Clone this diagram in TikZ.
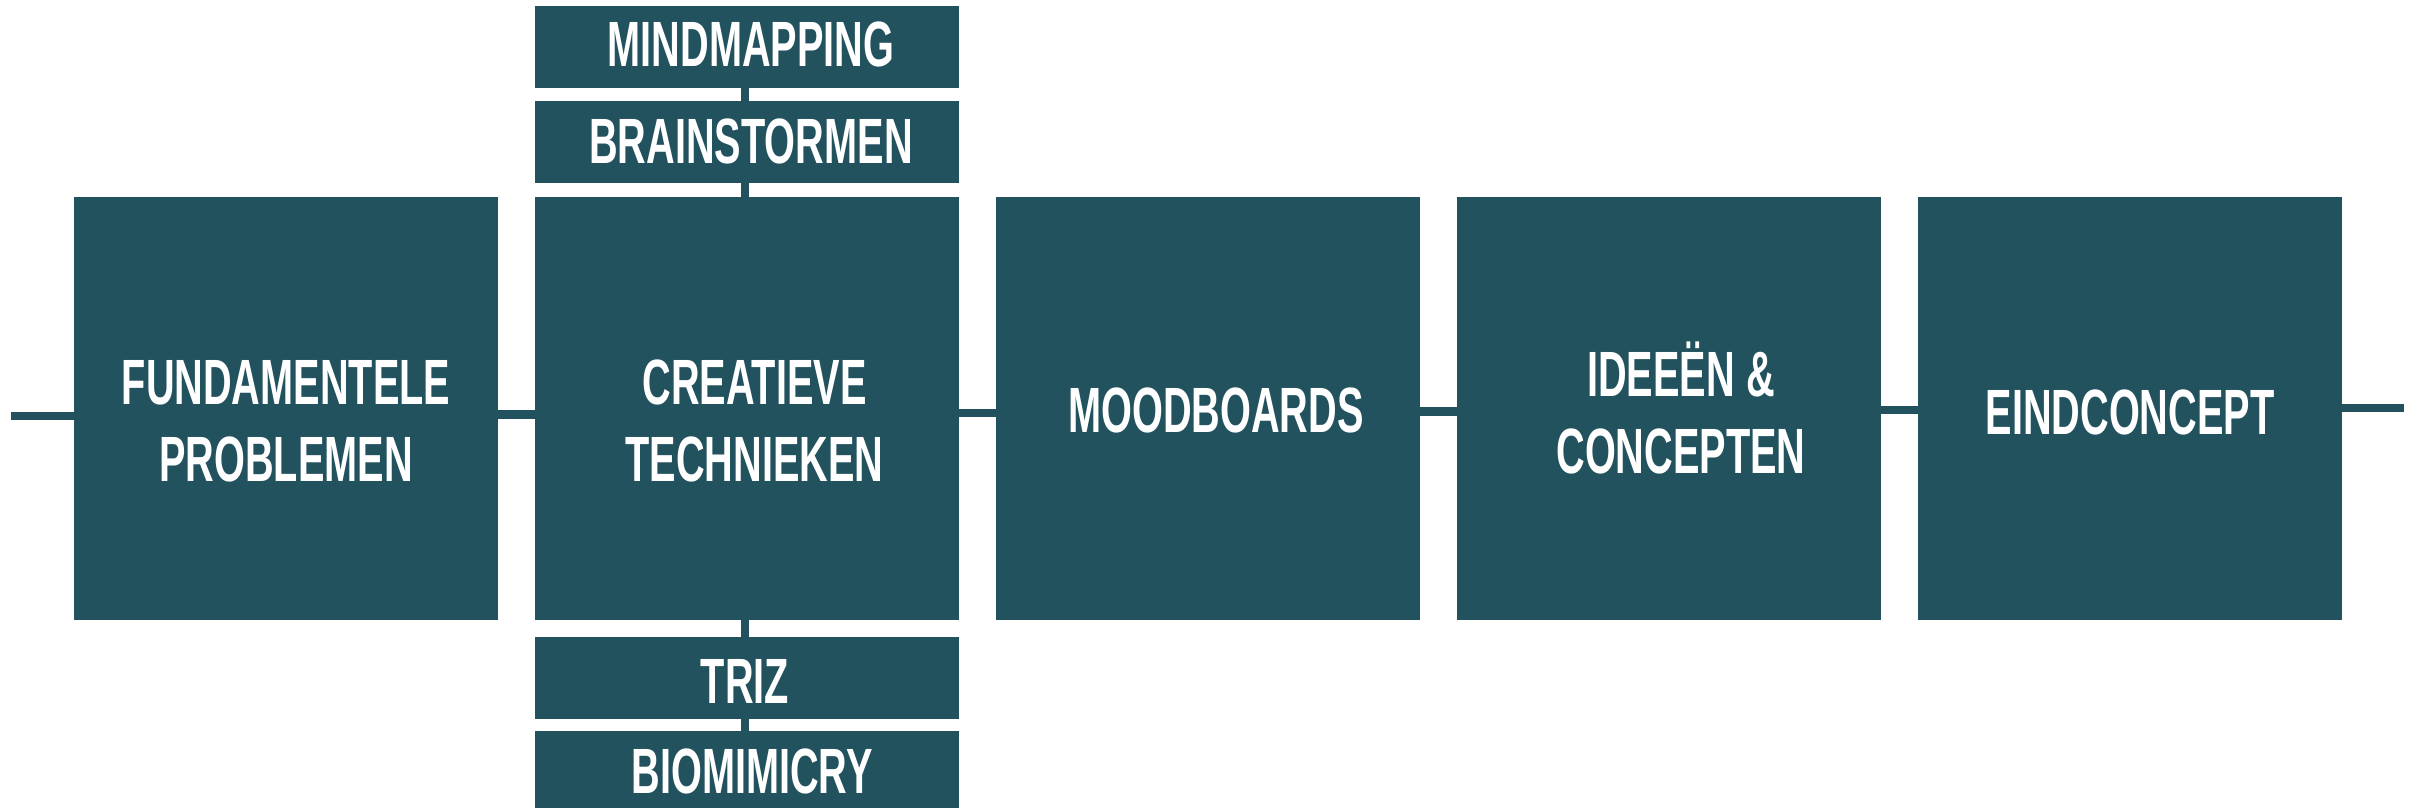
\documentclass[tikz,border=0pt]{standalone}
\usepackage{fontspec}
\newfontfamily\labelfont[FakeStretch=0.62]{Liberation Sans}
\definecolor{boxteal}{RGB}{35,82,95}
\begin{document}
\begin{tikzpicture}[x=0.5pt,y=-0.5pt,
  box/.style={fill=boxteal, inner sep=0pt, minimum width=212pt},
  bigbox/.style={box, minimum height=211.5pt},
  smallbox/.style={box, minimum height=41pt},
  conn/.style={draw=boxteal, line width=4.25pt},
  vconn/.style={draw=boxteal, line width=4.2pt},
  txt/.style={text=white, font=\labelfont\bfseries\fontsize{32}{38.5}\selectfont, align=center, inner sep=0pt, text height=23pt}]
\useasboundingbox (0,0) rectangle (2417,808);
\node[bigbox] (b1) at (286,408.5) {};
\node[bigbox] (b2) at (747,408.5) {};
\node[bigbox] (b3) at (1208,408.5) {};
\node[bigbox] (b4) at (1669,408.5) {};
\node[bigbox] (b5) at (2130,408.5) {};
\node[smallbox] (mind) at (747,47) {};
\node[smallbox] (brain) at (747,142) {};
\node[smallbox] (triz) at (747,678) {};
\node[smallbox] (bio) at (747,772) {};
\coordinate (lstart) at (11,416);
\coordinate (rend) at (2404,408);
\draw[conn] (lstart) -- (b1.west |- lstart);
\draw[conn] (b1.east |- 0,414.5) -- (b2.west |- 0,414.5);
\draw[conn] (b2.east |- 0,413) -- (b3.west |- 0,413);
\draw[conn] (b3.east |- 0,411.7) -- (b4.west |- 0,411.7);
\draw[conn] (b4.east |- 0,410) -- (b5.west |- 0,410);
\draw[conn] (b5.east |- rend) -- (rend);
\draw[vconn] ([xshift=-1pt]mind.south) -- ([xshift=-1pt]brain.north);
\draw[vconn] ([xshift=-1pt]brain.south) -- ([xshift=-1pt]b2.north);
\draw[vconn] ([xshift=-1pt]b2.south) -- ([xshift=-1pt]triz.north);
\draw[vconn] ([xshift=-1pt]triz.south) -- ([xshift=-1pt]bio.north);
\node[txt] (t1) at (286,458.5) {FUNDAMENTELE\\PROBLEMEN};
\node[txt] (t2) at (754.5,458.5) {CREATIEVE\\TECHNIEKEN};
\node[txt] (t3) at (1216,410) {MOODBOARDS};
\node[txt] (t4) at (1681,450.5) {IDEEËN \&\\CONCEPTEN};
\node[txt] (t5) at (2130,411.5) {EINDCONCEPT};
\node[txt] (tm) at (751,43.5) {MINDMAPPING};
\node[txt] (tb) at (751,140.5) {BRAINSTORMEN};
\node[txt] (tt) at (745,680.5) {TRIZ};
\node[txt] (tbi) at (752,770.5) {BIOMIMICRY};
\end{tikzpicture}
\end{document}
